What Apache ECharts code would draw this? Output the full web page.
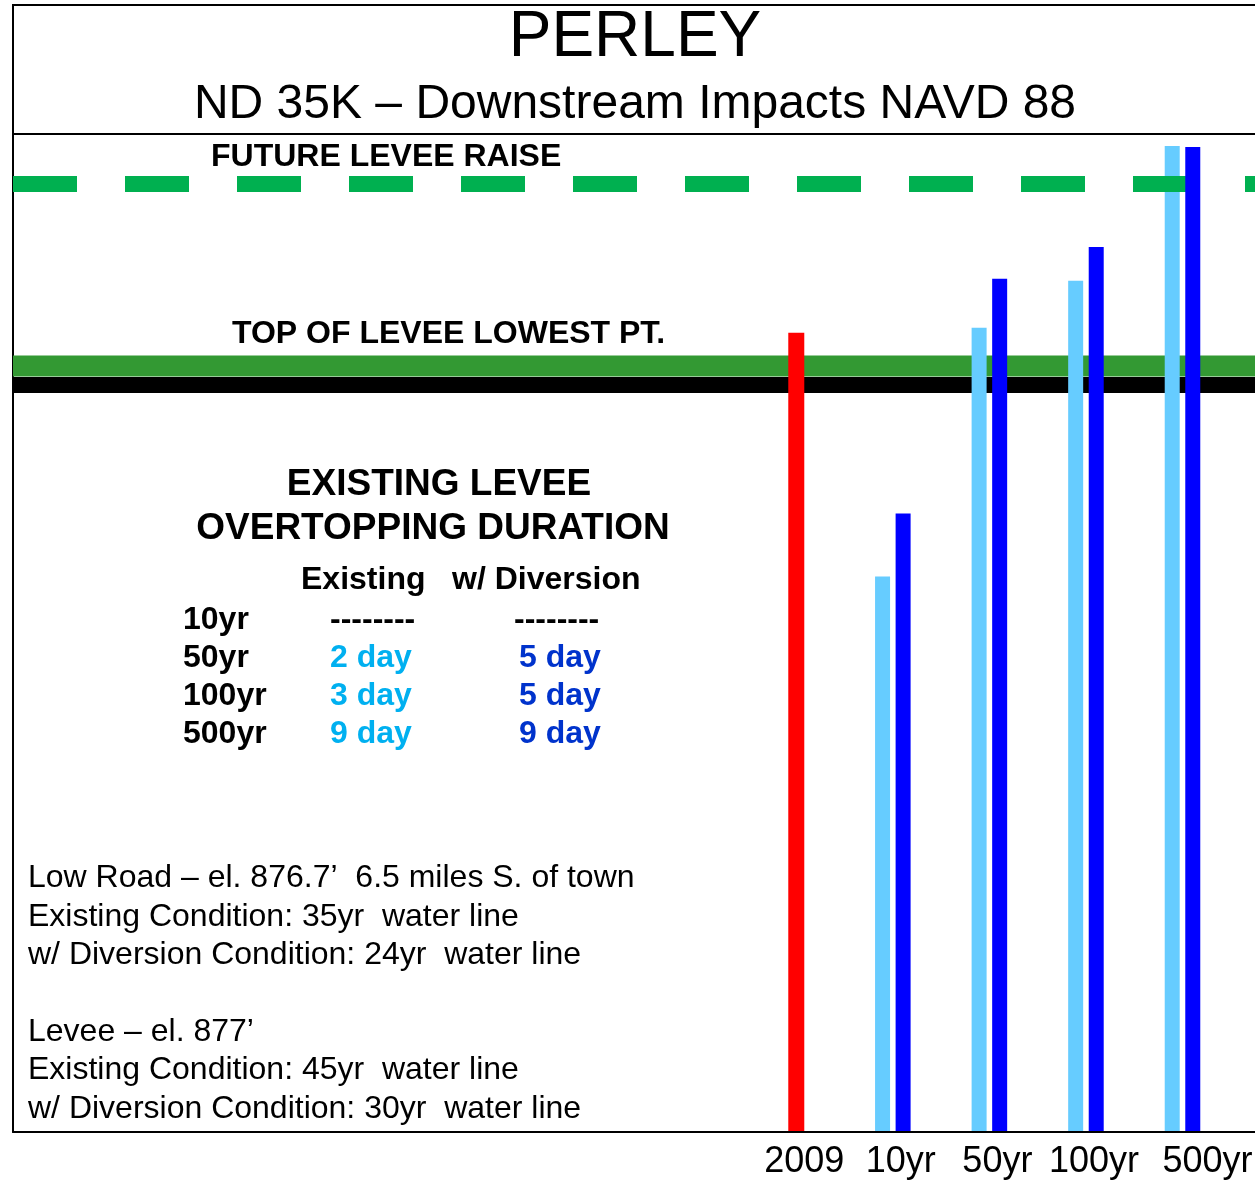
<!DOCTYPE html>
<html>
<head>
<meta charset="utf-8">
<script src="https://cdn.jsdelivr.net/npm/echarts@6/dist/echarts.min.js"></script>
<style>
html,body{margin:0;padding:0;background:#fff;}
#chart{width:1255px;height:1180px;}
</style>
</head>
<body>
<div id="chart"></div>
<script>
// ---- data ----
const categories = ['2009', '10yr', '50yr', '100yr', '500yr'];
const stage2009 = [799, '-', '-', '-', '-'];
const existingStage = ['-', 555, 804, 851, 986];
const diversionStage = ['-', 618, 853, 885, 985];
const futureLeveeRaise = 948;
const topOfLeveeLowest = 766;
const existingLeveeLine = 747;

const titleText = 'PERLEY';
const subtitleText = 'ND 35K \u2013 Downstream Impacts NAVD 88';
const tableTitle = ['EXISTING LEVEE', 'OVERTOPPING DURATION'];
const tableHeader = ['Existing', 'w/ Diversion'];
const tableRows = ['10yr', '50yr', '100yr', '500yr'];
const tableExisting = ['--------', '2 day', '3 day', '9 day'];
const tableDiversion = ['--------', '5 day', '5 day', '9 day'];
const notesA = [
  'Low Road \u2013 el. 876.7\u2019  6.5 miles S. of town',
  'Existing Condition: 35yr  water line',
  'w/ Diversion Condition: 24yr  water line'
];
const notesB = [
  'Levee \u2013 el. 877\u2019',
  'Existing Condition: 45yr  water line',
  'w/ Diversion Condition: 30yr  water line'
];

// ---- chart ----
const FF = '"Liberation Sans", Arial, Helvetica, sans-serif';
const chart = echarts.init(document.getElementById('chart'), null, {renderer: 'canvas'});

function txt(text, x, y, size, opts) {
  opts = opts || {};
  const align = opts.align || 'left';
  return {
    type: 'text', x: x, y: y + 2, z: 10, silent: true,
    style: {
      text: text,
      font: (opts.bold ? 'bold ' : '') + size + 'px ' + FF,
      fill: opts.color || '#000',
      align: align, verticalAlign: 'middle',
      textAlign: align, textVerticalAlign: 'middle'
    }
  };
}

const graphics = [
  {type: 'rect', z: 10, silent: true, shape: {x: 13, y: 5, width: 1300, height: 129},
   style: {fill: 'none', stroke: '#000', lineWidth: 2}},
  txt(titleText, 635, 36, 64, {align: 'center'}),
  txt(subtitleText, 635, 103, 48, {align: 'center'}),
  txt('FUTURE LEVEE RAISE', 211, 155, 32, {bold: true}),
  txt('TOP OF LEVEE LOWEST PT.', 232, 332, 32, {bold: true}),
  txt(tableTitle[0], 439, 483, 37, {bold: true, align: 'center'}),
  txt(tableTitle[1], 433, 527, 37, {bold: true, align: 'center'}),
  txt(tableHeader[0], 301, 578, 32, {bold: true}),
  txt(tableHeader[1], 452, 578, 32, {bold: true})
];
const rowY = [618, 656, 694, 732];
tableRows.forEach(function (r, i) {
  graphics.push(txt(r, 183, rowY[i], 32, {bold: true}));
  graphics.push(txt(tableExisting[i], 330, rowY[i], 32, {bold: true, color: i === 0 ? '#000' : '#00b0f0'}));
  graphics.push(txt(tableDiversion[i], i === 0 ? 514 : 519, rowY[i], 32, {bold: true, color: i === 0 ? '#000' : '#0033cc'}));
});
const noteYA = [876, 915, 953];
const noteYB = [1030, 1068, 1107];
notesA.forEach(function (n, i) { graphics.push(txt(n, 28, noteYA[i], 32)); });
notesB.forEach(function (n, i) { graphics.push(txt(n, 28, noteYB[i], 32)); });

function hLine(value, color, width, type, z) {
  return {
    type: 'line', xAxisIndex: 0, yAxisIndex: 0, silent: true, z: z,
    data: [[0, value], [1, value]], showSymbol: false, symbol: 'none',
    lineStyle: {color: color, width: width, type: type, cap: 'butt', dashOffset: 0},
    animation: false
  };
}

const option = {
  backgroundColor: '#fff',
  animation: false,
  graphic: graphics,
  grid: [
    {left: 13, right: -40, top: 134, bottom: 48, containLabel: false},
    {left: 748, right: 19, top: 134, bottom: 48, containLabel: false}
  ],
  xAxis: [
    {gridIndex: 0, type: 'value', min: 0, max: 1,
     axisLine: {show: true, onZero: false, lineStyle: {color: '#000', width: 2}},
     axisTick: {show: false}, axisLabel: {show: false}, splitLine: {show: false}},
    {gridIndex: 1, type: 'category', data: categories,
     axisLine: {show: false}, axisTick: {show: false}, splitLine: {show: false},
     axisLabel: {show: true, color: '#000', fontSize: 36, fontFamily: FF, margin: 13,
       padding: [0, 0, 0, 16], interval: 0,
       formatter: function (v, i) { return i === categories.length - 1 ? '{far|' + v + '}' : v; },
       rich: {far: {fontSize: 36, fontFamily: FF, color: '#000', padding: [0, 0, 0, 34]}}}},
    {gridIndex: 1, type: 'category', data: categories, show: false}
  ],
  yAxis: [
    {gridIndex: 0, type: 'value', min: 0, max: 998,
     axisLine: {show: true, lineStyle: {color: '#000', width: 2}},
     axisTick: {show: false}, axisLabel: {show: false}, splitLine: {show: false}},
    {gridIndex: 1, type: 'value', min: 0, max: 998, show: false, splitLine: {show: false}}
  ],
  series: [
    hLine(existingLeveeLine, '#000000', 16, 'solid', 1),
    hLine(topOfLeveeLowest, '#339933', 21, 'solid', 1),
    {
      name: 'Existing', type: 'bar', xAxisIndex: 1, yAxisIndex: 1, z: 2,
      data: existingStage, barWidth: 15, barGap: '37%',
      itemStyle: {color: '#66ccff'}
    },
    hLine(futureLeveeRaise, '#00b050', 16, [64, 48], 3),
    {
      name: 'w/ Diversion', type: 'bar', xAxisIndex: 1, yAxisIndex: 1, z: 4,
      data: diversionStage, barWidth: 15, barGap: '37%',
      itemStyle: {color: '#0000ff'}
    },
    {
      name: '2009', type: 'bar', xAxisIndex: 2, yAxisIndex: 1, z: 4,
      data: stage2009, barWidth: 16,
      itemStyle: {color: '#ff0000'}
    }
  ]
};
chart.setOption(option);
</script>
</body>
</html>
